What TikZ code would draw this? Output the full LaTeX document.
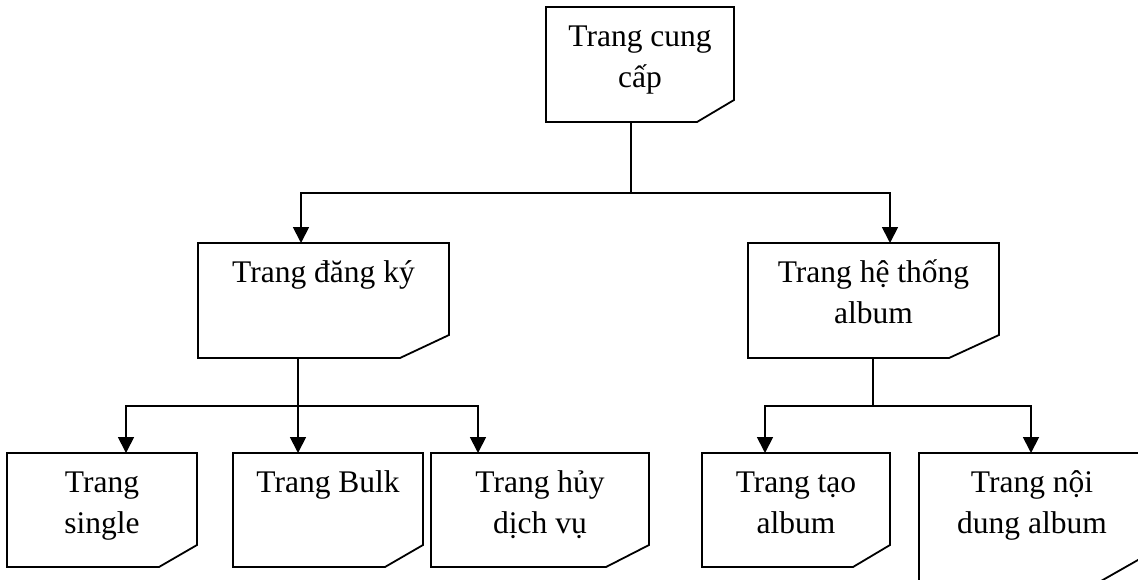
\documentclass[tikz,border=0pt]{standalone}
\usepackage{fontspec}
\setmainfont{Liberation Serif}
\usetikzlibrary{arrows.meta}
\tikzset{
  ln/.style={line width=1.8pt, line join=miter},
  arr/.style={ln, -{Triangle[width=16pt,length=16pt]}},
  frame/.style={rectangle, inner sep=0pt, outer sep=0pt},
  lbl/.style={anchor=base, inner sep=0pt, font=\fontsize{31.5}{41}\selectfont},
}
\newcommand\cardpath[3]{\draw[ln] (#1.north west) -- (#1.north east) -- ([yshift=#3]#1.south east) -- ([xshift=-#2]#1.south east) -- (#1.south west) -- cycle;}
\newcommand\twol[2]{\begin{tabular}[t]{@{}c@{}}#1\\#2\end{tabular}}
\begin{document}
\begin{tikzpicture}[x=1pt,y=-1pt]
\useasboundingbox (0,0) rectangle (1138,579);
\fill[white] (0,0) rectangle (1138,579);
% boxes
\node[frame, minimum width=188pt, minimum height=115pt] (b0) at (640,64.5) {};
\node[frame, minimum width=251pt, minimum height=115pt] (b1) at (323.5,300.5) {};
\node[frame, minimum width=251pt, minimum height=115pt] (b2) at (873.5,300.5) {};
\node[frame, minimum width=190pt, minimum height=114pt] (b3) at (102,510) {};
\node[frame, minimum width=190pt, minimum height=114pt] (b4) at (328,510) {};
\node[frame, minimum width=218pt, minimum height=114pt] (b5) at (540,510) {};
\node[frame, minimum width=188pt, minimum height=114pt] (b6) at (796,510) {};
\node[frame, minimum width=226pt, minimum height=128pt] (b7) at (1032,517) {};
\cardpath{b0}{37pt}{22pt}
\cardpath{b1}{49pt}{23pt}
\cardpath{b2}{50pt}{23pt}
\cardpath{b3}{38pt}{22pt}
\cardpath{b4}{38pt}{22pt}
\cardpath{b5}{43pt}{22pt}
\cardpath{b6}{37pt}{22pt}
\cardpath{b7}{44pt}{25pt}
% labels
\node[lbl] (t0) at ([yshift=-39.5pt]b0.north) {\twol{Trang cung}{cấp}};
\node[lbl] (t1) at ([yshift=-39.5pt]b1.north) {Trang đăng ký};
\node[lbl] (t2) at ([yshift=-39.5pt]b2.north) {\twol{Trang hệ thống}{album}};
\node[lbl] (t3) at ([yshift=-39.5pt]b3.north) {\twol{Trang}{single}};
\node[lbl] (t4) at ([yshift=-39.5pt]b4.north) {Trang Bulk};
\node[lbl] (t5) at ([yshift=-39.5pt]b5.north) {\twol{Trang hủy}{dịch vụ}};
\node[lbl] (t6) at ([yshift=-39.5pt]b6.north) {\twol{Trang tạo}{album}};
\node[lbl] (t7) at ([yshift=-39.5pt]b7.north) {\twol{Trang nội}{dung album}};
% connectors level 1
\coordinate (j0) at (631,193);
\coordinate (l0) at (301,193);
\coordinate (r0) at (890,193);
\draw[ln] (b0.south -| j0) -- (j0);
\draw[arr] (j0) -- (l0) -- (l0 |- b1.north);
\draw[arr] (j0) -- (r0) -- (r0 |- b2.north);
% connectors level 2 left
\coordinate (j1) at (298,406);
\coordinate (l1) at (126,406);
\coordinate (r1) at (478,406);
\draw[arr] (b1.south -| j1) -- (j1 |- b4.north);
\draw[arr] (j1) -- (l1) -- (l1 |- b3.north);
\draw[arr] (j1) -- (r1) -- (r1 |- b5.north);
% connectors level 2 right
\coordinate (j2) at (873,406);
\coordinate (l2) at (765,406);
\coordinate (r2) at (1031,406);
\draw[ln] (b2.south -| j2) -- (j2);
\draw[arr] (j2) -- (l2) -- (l2 |- b6.north);
\draw[arr] (j2) -- (r2) -- (r2 |- b7.north);
\end{tikzpicture}
\end{document}
